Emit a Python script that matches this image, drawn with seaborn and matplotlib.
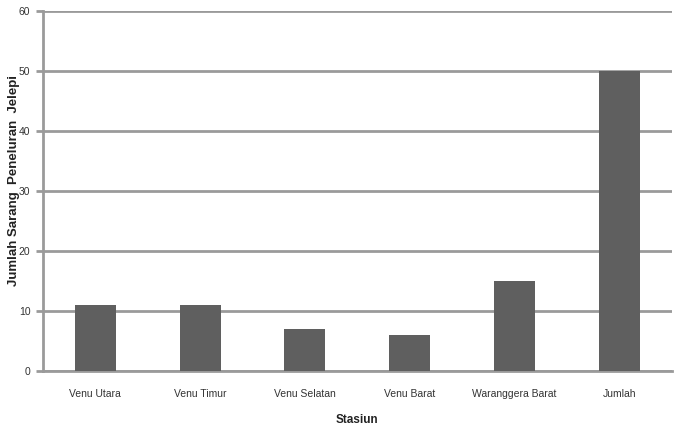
import matplotlib
matplotlib.use("Agg")
import matplotlib.pyplot as plt
import seaborn as sns
import pandas as pd

categories = ["Venu Utara", "Venu Timur", "Venu Selatan", "Venu Barat", "Waranggera Barat", "Jumlah"]
values = [11, 11, 7, 6, 15, 50]
yticks = [0, 10, 20, 30, 40, 50, 60]

sns.set_theme(style="white")
plt.rcParams['font.family'] = ['Liberation Sans Narrow', 'Liberation Sans', 'DejaVu Sans']

df = pd.DataFrame({"Stasiun": categories, "Jumlah": values})

fig = plt.figure(figsize=(6.8, 4.3), dpi=100)
ax = fig.add_axes([0.063, 0.137, 0.925, 0.837])

sns.barplot(data=df, x="Stasiun", y="Jumlah", color="#5f5f5f", saturation=1,
            width=0.39, ax=ax, zorder=3, linewidth=0)

ax.set_ylim(0, 60)
ax.set_yticks(yticks)
ax.set_xlim(-0.5, len(categories) - 0.5)
ax.yaxis.grid(True, color="#9a9a9a", linewidth=2, zorder=0)
ax.set_axisbelow(True)
for s in ["top", "right"]:
    ax.spines[s].set_visible(False)
for s in ["left", "bottom"]:
    ax.spines[s].set_color("#9a9a9a")
    ax.spines[s].set_linewidth(2)
ax.tick_params(axis="y", which="major", left=True, length=5, width=2, color="#9a9a9a",
               labelsize=7.5, labelcolor="#333333", pad=4)
ax.tick_params(axis="x", bottom=False, labelsize=7.5, labelcolor="#333333", pad=7)

ax.set_xlabel("Stasiun", fontsize=8.5, fontweight="bold", color="#222222")
ax.xaxis.set_label_coords(0.5, -0.118)
ax.set_ylabel("Jumlah Sarang  Peneluran  Jelepi", fontsize=9.5, fontweight="bold",
              color="#222222", family=["Liberation Sans", "DejaVu Sans"])
ax.yaxis.set_label_coords(-0.036, 0.53)

fig.savefig("out.png", dpi=100, facecolor="white")
